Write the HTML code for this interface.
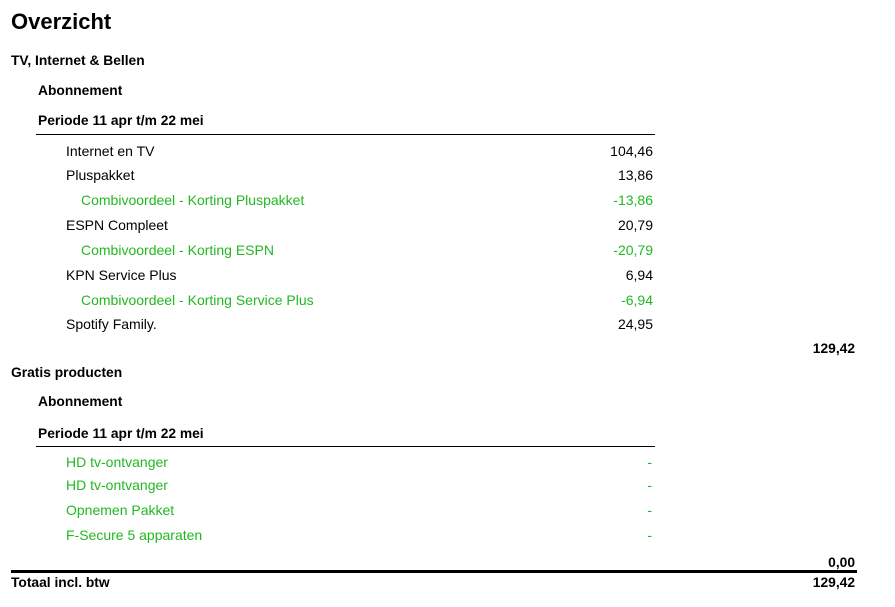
<!DOCTYPE html>
<html><head><meta charset="utf-8"><style>
body{margin:0;width:895px;height:607px;background:#fff;font-family:"Liberation Sans",sans-serif;color:#000;position:relative;overflow:hidden}
div{position:absolute;white-space:nowrap;line-height:16px;font-size:14px}
.b{font-weight:bold;font-size:13.8px}
.g{color:#22b822}
.r{text-align:right}
.l{height:0;border-top:1px solid #000;line-height:0}
</style></head><body>
<div style="left:11px;top:9px;font-size:22px;line-height:26px;font-weight:bold">Overzicht</div>
<div class="b" style="left:11px;top:53px">TV, Internet &amp; Bellen</div>
<div class="b" style="left:38px;top:83px">Abonnement</div>
<div class="b" style="left:38px;top:113px">Periode 11 apr t/m 22 mei</div>
<div class="l" style="left:36px;top:134px;width:619px"></div>

<div style="left:66px;top:143px">Internet en TV</div><div class="r" style="right:242px;top:143px">104,46</div>
<div style="left:66px;top:167px">Pluspakket</div><div class="r" style="right:242px;top:167px">13,86</div>
<div class="g" style="left:81px;top:192px">Combivoordeel - Korting Pluspakket</div><div class="r g" style="right:242px;top:192px">-13,86</div>
<div style="left:66px;top:217px">ESPN Compleet</div><div class="r" style="right:242px;top:217px">20,79</div>
<div class="g" style="left:81px;top:242px">Combivoordeel - Korting ESPN</div><div class="r g" style="right:242px;top:242px">-20,79</div>
<div style="left:66px;top:267px">KPN Service Plus</div><div class="r" style="right:242px;top:267px">6,94</div>
<div class="g" style="left:81px;top:292px">Combivoordeel - Korting Service Plus</div><div class="r g" style="right:242px;top:292px">-6,94</div>
<div style="left:66px;top:316px">Spotify Family.</div><div class="r" style="right:242px;top:316px">24,95</div>
<div class="b r" style="right:40px;top:341px">129,42</div>

<div class="b" style="left:11px;top:365px">Gratis producten</div>
<div class="b" style="left:38px;top:394px">Abonnement</div>
<div class="b" style="left:38px;top:426px">Periode 11 apr t/m 22 mei</div>
<div class="l" style="left:36px;top:446px;width:619px"></div>
<div class="g" style="left:66px;top:454px">HD tv-ontvanger</div><div class="r g" style="right:243px;top:454px">-</div>
<div class="g" style="left:66px;top:477px">HD tv-ontvanger</div><div class="r g" style="right:243px;top:477px">-</div>
<div class="g" style="left:66px;top:502px">Opnemen Pakket</div><div class="r g" style="right:243px;top:502px">-</div>
<div class="g" style="left:66px;top:527px">F-Secure 5 apparaten</div><div class="r g" style="right:243px;top:527px">-</div>

<div class="b r" style="right:40px;top:555px">0,00</div>
<div style="left:11px;top:570px;width:846px;height:3px;background:#000"></div>
<div class="b" style="left:11px;top:575px">Totaal incl. btw</div>
<div class="b r" style="right:40px;top:575px">129,42</div>
</body></html>
